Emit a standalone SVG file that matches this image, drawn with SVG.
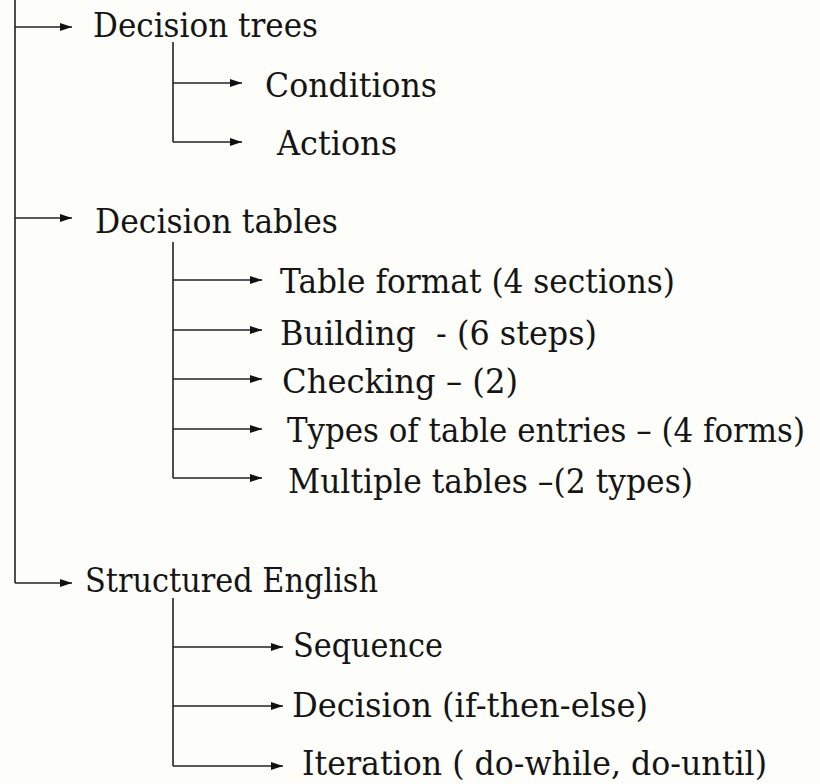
<svg xmlns="http://www.w3.org/2000/svg" width="820" height="784" viewBox="0 0 820 784">
<defs>
<marker id="ah" markerWidth="12" markerHeight="9" refX="12" refY="4.5" orient="auto" markerUnits="userSpaceOnUse">
<path d="M0,0.5 L12,4.5 L0,8.5 z" fill="#111"/>
</marker>
<style>
.ln{stroke:#222;stroke-width:1.6;fill:none}
.ar{stroke:#222;stroke-width:1.6;fill:none;marker-end:url(#ah)}
.t{font-family:'DejaVu Serif','Liberation Serif',serif;font-size:34px;fill:#151515}
</style>
</defs>
<rect width="820" height="784" fill="#fdfdf9"/>
<g id="connectors">
<path class="ln" d="M15,0 V583"/>
<path class="ar" d="M15,27 H72"/>
<path class="ar" d="M15,218 H72"/>
<path class="ar" d="M15,583 H72"/>
<path class="ln" d="M173,42 V142"/>
<path class="ar" d="M173,83 H242"/>
<path class="ar" d="M173,142 H242"/>
<path class="ln" d="M173,242 V478"/>
<path class="ar" d="M173,280 H262"/>
<path class="ar" d="M173,330 H262"/>
<path class="ar" d="M173,379 H262"/>
<path class="ar" d="M173,429 H262"/>
<path class="ar" d="M173,478 H262"/>
<path class="ln" d="M173,598 V766"/>
<path class="ar" d="M173,647 H283"/>
<path class="ar" d="M173,706 H283"/>
<path class="ar" d="M173,766 H283"/>
</g>
<g id="decision-trees"><text class="t" x="93" y="37" textLength="225" lengthAdjust="spacingAndGlyphs">Decision trees</text></g>
<g id="conditions"><text class="t" x="265" y="97" textLength="172" lengthAdjust="spacingAndGlyphs">Conditions</text></g>
<g id="actions"><text class="t" x="277" y="155" textLength="120" lengthAdjust="spacingAndGlyphs">Actions</text></g>
<g id="decision-tables"><text class="t" x="95" y="233" textLength="243" lengthAdjust="spacingAndGlyphs">Decision tables</text></g>
<g id="table-format"><text class="t" x="280" y="293" textLength="395" lengthAdjust="spacingAndGlyphs">Table format (4 sections)</text></g>
<g id="building"><text class="t" x="280" y="345" textLength="317" lengthAdjust="spacingAndGlyphs" xml:space="preserve">Building  - (6 steps)</text></g>
<g id="checking"><text class="t" x="282" y="393" textLength="236" lengthAdjust="spacingAndGlyphs">Checking – (2)</text></g>
<g id="types"><text class="t" x="287" y="442" textLength="518" lengthAdjust="spacingAndGlyphs">Types of table entries – (4 forms)</text></g>
<g id="multiple"><text class="t" x="288" y="493" textLength="405" lengthAdjust="spacingAndGlyphs">Multiple tables –(2 types)</text></g>
<g id="structured-english"><text class="t" x="85" y="592" textLength="293" lengthAdjust="spacingAndGlyphs">Structured English</text></g>
<g id="sequence"><text class="t" x="293" y="657" textLength="150" lengthAdjust="spacingAndGlyphs">Sequence</text></g>
<g id="decision"><text class="t" x="292" y="717" textLength="356" lengthAdjust="spacingAndGlyphs">Decision (if-then-else)</text></g>
<g id="iteration"><text class="t" x="302" y="775" textLength="465" lengthAdjust="spacingAndGlyphs">Iteration ( do-while, do-until)</text></g>
</svg>
